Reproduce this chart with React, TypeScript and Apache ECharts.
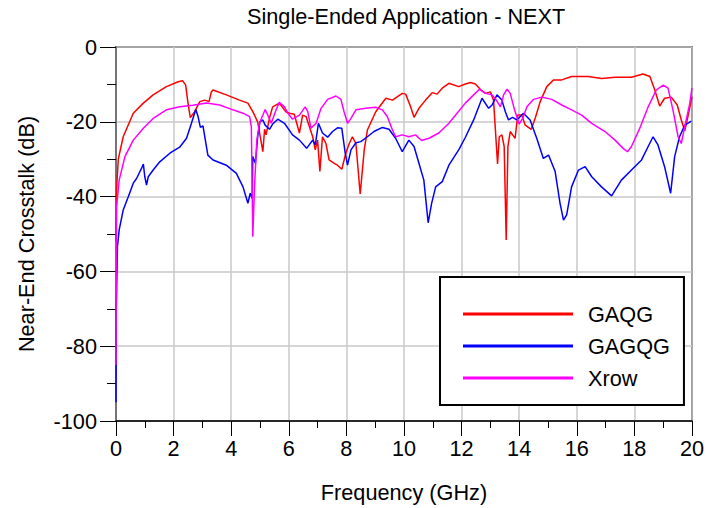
import React, { useEffect, useRef } from "react";
import * as echarts from "echarts";

const titleText = "Single-Ended Application - NEXT";
const xName = "Frequency (GHz)";
const yName = "Near-End Crosstalk (dB)";
const seriesNames = ["GAQG", "GAGQG", "Xrow"];
const seriesColors = ["#ff0000", "#0000ff", "#ff00ff"];

// [frequency GHz, crosstalk dB]
const gaqg: number[][] = [
  [0, -52], [0.02, -38], [0.08, -30], [0.25, -24], [0.6, -17.7], [0.95, -15], [1.29, -12.8], [1.75, -10.6],
  [2.16, -9.3], [2.31, -9.0], [2.42, -10.2], [2.5, -15], [2.58, -18.9], [2.73, -17.3], [2.91, -14.6], [3.08, -14.2],
  [3.23, -14.6], [3.31, -12], [3.37, -11.5], [3.83, -12.8], [4.29, -14.2], [4.58, -15], [4.75, -17.3], [4.92, -20],
  [5.1, -28], [5.16, -22], [5.21, -23.5], [5.33, -19], [5.44, -16], [5.67, -15], [5.9, -17.3], [6.02, -17.7],
  [6.19, -18], [6.37, -23], [6.48, -18.2], [6.6, -18.6], [6.83, -24], [6.92, -27.5], [7.0, -24.9], [7.08, -33.3],
  [7.17, -24], [7.29, -25.8], [7.4, -30.2], [7.58, -31.1], [7.69, -31.6], [7.84, -32.7], [7.98, -28.4], [8.1, -25.8],
  [8.21, -24], [8.33, -25.8], [8.48, -39.3], [8.62, -27.5], [8.73, -22.2], [9.02, -17.3], [9.37, -13.7], [9.6, -14.2],
  [9.94, -12.4], [10.06, -12.6], [10.23, -16], [10.35, -18.8], [10.52, -16.4], [10.75, -14.2], [10.98, -12.2],
  [11.15, -12.6], [11.33, -11], [11.56, -9.7], [11.9, -10.6], [12.13, -9.9], [12.31, -9.5], [12.48, -9.9],
  [12.65, -11.3], [12.83, -12.4], [13.0, -12], [13.11, -14.2], [13.19, -24], [13.25, -31.3], [13.31, -24],
  [13.4, -23.5], [13.48, -26.6], [13.55, -51.6], [13.61, -26.6], [13.69, -22.6], [13.77, -23.5], [13.86, -24.4],
  [13.95, -18.2], [14.09, -18.2], [14.21, -20.9], [14.42, -22], [14.56, -19], [14.73, -14.6], [14.96, -10.6],
  [15.19, -8.8], [15.48, -8.8], [15.82, -7.9], [16.4, -7.9], [16.86, -8.4], [17.33, -8.1], [17.9, -8.1],
  [18.3, -7.2], [18.54, -7.9], [18.71, -11.5], [18.88, -15.8], [19.05, -13.7], [19.28, -13.4], [19.49, -15.5],
  [19.63, -19.5], [19.75, -22.4], [19.86, -18.6], [20.0, -13.3],
];

const gagqg: number[][] = [
  [0, -95], [0.01, -70], [0.05, -53.4], [0.11, -48.9], [0.25, -43.6], [0.43, -40], [0.6, -36.4], [0.72, -35.1],
  [0.83, -33.3], [0.89, -32.4], [0.95, -31.3], [1.0, -34.7], [1.06, -36.9], [1.12, -34.7], [1.29, -32.9],
  [1.52, -30.7], [1.87, -28.4], [2.21, -26.8], [2.45, -24.4], [2.62, -20.4], [2.77, -16.7], [2.85, -18.6],
  [2.93, -21.5], [3.02, -21.1], [3.19, -28.9], [3.37, -30.2], [3.83, -31.6], [4.18, -33.8], [4.41, -37.4],
  [4.58, -41.8], [4.66, -39.1], [4.73, -40.5], [4.75, -29.3], [4.84, -31.1], [4.92, -24], [5.0, -20], [5.1, -19.5],
  [5.18, -20.9], [5.33, -22], [5.44, -20.6], [5.62, -19.3], [5.85, -20.4], [6.13, -23.5], [6.37, -24.9],
  [6.62, -27.1], [6.83, -24.9], [6.92, -26.2], [7.03, -20.4], [7.17, -23], [7.35, -24.1], [7.52, -22.6],
  [7.69, -21.6], [7.84, -21.7], [7.96, -28.4], [8.04, -31.6], [8.16, -27.5], [8.33, -25.6], [8.5, -25.3],
  [8.73, -24], [8.96, -22.6], [9.25, -21.5], [9.48, -22], [9.71, -24.4], [9.94, -28], [10.17, -24.9],
  [10.35, -26.6], [10.52, -31.1], [10.69, -35.6], [10.84, -47], [10.96, -41.8], [11.1, -37.4], [11.33, -36],
  [11.56, -31.6], [11.9, -27.5], [12.13, -24.2], [12.42, -19.5], [12.71, -13.7], [12.94, -16.4], [13.06, -15.5],
  [13.23, -12.8], [13.4, -14.2], [13.52, -17.3], [13.63, -19.5], [13.77, -18.8], [13.92, -19.5], [14.15, -17.7],
  [14.38, -19.5], [14.61, -24.4], [14.84, -29.8], [15.02, -28.9], [15.25, -33.3], [15.42, -41.8], [15.54, -46.3],
  [15.65, -44.9], [15.82, -37.4], [16.06, -32.9], [16.29, -32], [16.52, -34.7], [16.86, -37.4], [17.21, -39.8],
  [17.55, -35.6], [17.9, -32.9], [18.25, -30.2], [18.48, -26.6], [18.65, -24], [18.82, -26.2], [19.05, -32],
  [19.26, -39.1], [19.4, -29.3], [19.57, -24], [19.75, -20.9], [19.98, -19.8],
];

const xrow: number[][] = [
  [0, -85], [0.01, -60], [0.02, -42.7], [0.11, -35.6], [0.31, -29.3], [0.6, -24.9], [0.95, -21.7], [1.29, -19.1],
  [1.75, -16.8], [2.21, -16], [2.67, -15.6], [3.14, -15], [3.6, -15.5], [4.06, -16.8], [4.41, -17.7], [4.64, -18.6],
  [4.7, -21.3], [4.75, -50.7], [4.81, -37.4], [4.89, -24.9], [4.98, -20.4], [5.1, -18.2], [5.18, -16.7],
  [5.27, -18.2], [5.39, -20.4], [5.56, -16.8], [5.67, -14.8], [5.85, -16], [5.95, -17.5], [6.13, -19.3],
  [6.37, -18.2], [6.57, -16], [6.66, -17.3], [6.77, -21.7], [6.95, -20.4], [7.12, -16.4], [7.35, -14],
  [7.64, -13.1], [7.81, -14], [7.92, -17.3], [8.04, -20.4], [8.16, -19.1], [8.33, -16.8], [8.67, -16.4],
  [9.02, -16.1], [9.25, -16.8], [9.42, -18.6], [9.6, -22.2], [9.71, -24], [9.94, -23.5], [10.17, -24],
  [10.4, -23.5], [10.61, -25], [10.87, -24.4], [11.21, -23], [11.56, -20.4], [11.9, -17.2], [12.13, -15],
  [12.42, -12.8], [12.62, -11.3], [12.83, -12.4], [13.06, -12.8], [13.19, -14], [13.35, -16], [13.46, -12.8],
  [13.58, -11.3], [13.69, -12.4], [13.84, -16.8], [14.0, -20.6], [14.12, -19.1], [14.27, -16], [14.5, -14],
  [14.79, -13.4], [15.13, -14], [15.48, -15.5], [15.82, -16.8], [16.17, -18.2], [16.52, -20.4], [16.98, -22.6],
  [17.33, -24.9], [17.61, -27.1], [17.76, -28], [17.9, -26.6], [18.19, -21.7], [18.48, -16], [18.76, -11.5],
  [19.0, -10.2], [19.17, -11], [19.34, -16.8], [19.52, -24], [19.63, -25.8], [19.75, -21.3], [19.92, -15.3],
  [20.0, -11],
];

const seriesData = [gaqg, gagqg, xrow];

const FONT = "'Liberation Sans', Arial, sans-serif";
const FS = 21.7;

export default function App() {
  const ref = useRef<HTMLDivElement>(null);
  useEffect(() => {
    document.body.style.margin = "0";
    if (!ref.current) return;
    const chart = echarts.init(ref.current, undefined, { renderer: "svg" });
    chart.setOption({
      animation: false,
      backgroundColor: "#ffffff",
      textStyle: { fontFamily: FONT, color: "#000" },
      title: {
        text: titleText,
        left: 247,
        top: 5,
        padding: 0,
        textStyle: { fontFamily: FONT, fontSize: FS, fontWeight: "normal", color: "#000" },
      },
      grid: {
        left: 116,
        right: 13,
        top: 47,
        bottom: 87,
        show: true,
        borderColor: "#000",
        borderWidth: 1.5,
        backgroundColor: "transparent",
      },
      legend: {
        data: seriesNames,
        orient: "vertical",
        left: 440,
        top: 277,
        padding: [26, 14, 16, 23],
        borderColor: "#000",
        borderWidth: 2,
        backgroundColor: "#ffffff",
        icon: "rect",
        itemWidth: 110,
        itemHeight: 3,
        itemGap: 10,
        selectedMode: false,
        textStyle: { fontFamily: FONT, fontSize: FS, color: "#000", lineHeight: 22, padding: [0, 0, 0, 10] },
      },
      xAxis: {
        type: "value",
        min: 0,
        max: 20,
        interval: 2,
        name: xName,
        nameLocation: "middle",
        nameGap: 60,
        nameTextStyle: { fontFamily: FONT, fontSize: FS, color: "#000" },
        axisLine: { show: true, onZero: false, lineStyle: { color: "#000", width: 1.5 } },
        axisTick: { show: true, length: 15, lineStyle: { color: "#000", width: 1 } },
        minorTick: { show: true, splitNumber: 2, length: 7, lineStyle: { color: "#000", width: 1 } },
        splitLine: { show: true, lineStyle: { color: "#c8c8c8", width: 1.5 } },
        axisLabel: { fontFamily: FONT, fontSize: FS, color: "#000", margin: 16 },
      },
      yAxis: {
        type: "value",
        min: -100,
        max: 0,
        interval: 20,
        name: yName,
        nameLocation: "middle",
        nameGap: 79,
        nameTextStyle: { fontFamily: FONT, fontSize: FS, color: "#000" },
        axisLine: { show: true, onZero: false, lineStyle: { color: "#666", width: 1.5 } },
        axisTick: { show: true, length: 16, lineStyle: { color: "#000", width: 1 } },
        minorTick: { show: true, splitNumber: 2, length: 9, lineStyle: { color: "#000", width: 1 } },
        splitLine: { show: true, lineStyle: { color: "#c8c8c8", width: 1.5 } },
        axisLabel: { fontFamily: FONT, fontSize: FS, color: "#000", margin: 19 },
      },
      series: seriesNames.map((name, i) => ({
        name,
        type: "line",
        data: seriesData[i],
        showSymbol: false,
        symbol: "none",
        color: seriesColors[i],
        lineStyle: { color: seriesColors[i], width: 1.5 },
        clip: true,
      })),
    });
    return () => chart.dispose();
  }, []);
  return (
    <div
      ref={ref}
      style={{ position: "fixed", left: 0, top: 0, width: 707, height: 508 }}
    />
  );
}
